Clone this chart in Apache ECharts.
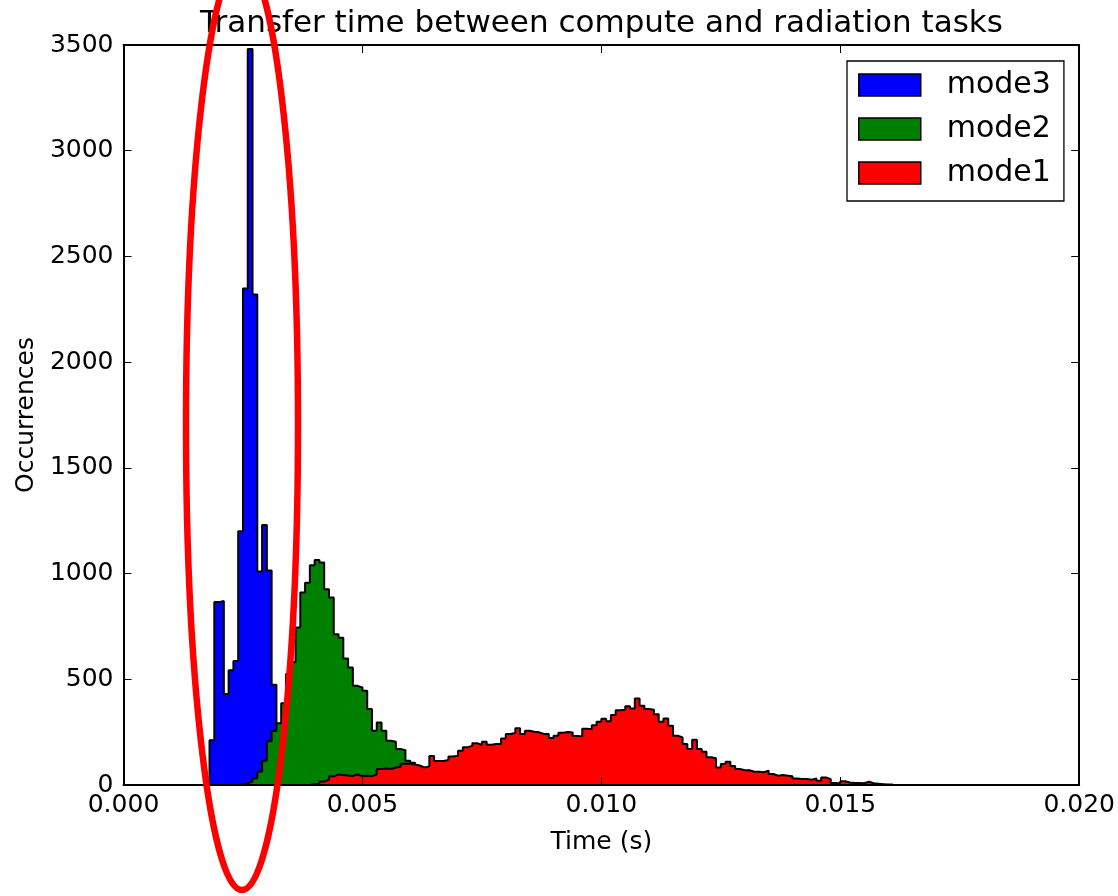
<!DOCTYPE html>
<html><head><meta charset="utf-8">
<script src="https://cdn.jsdelivr.net/npm/echarts@6/dist/echarts.min.js"></script>
<style>html,body{margin:0;padding:0;background:#fff}#c{width:1118px;height:896px}</style>
</head><body><div id="c"></div>
<script>
// ---- data (histogram bins of width 0.0001 s) ----
const binWidth = 0.0001;
const seriesNames = ['mode3', 'mode2', 'mode1'];
const mode3StartBin = 18;
const mode3Counts = [212, 865, 870, 430, 543, 587, 1200, 2348, 3481, 2320, 1010, 1230, 1015, 474, 180, 60, 15];
const mode2StartBin = 24;
const mode2Counts = [3, 8, 16, 31, 63, 115, 207, 255, 292, 387, 525, 580, 745, 910, 957, 1039, 1064, 1052, 926, 887,
  713, 697, 598, 556, 469, 461, 446, 359, 257, 296, 257, 209, 205, 170, 165, 115, 105, 90, 82, 70,
  60, 50, 42, 35, 28, 22, 18, 14, 10, 8, 5, 4, 2];
const mode1StartBin = 39;
const mode1Counts = [3, 6, 16, 25, 41, 50, 47, 45, 43, 50, 41, 44, 41, 50, 76, 78, 76, 83, 86, 100,
  100, 97, 92, 83, 88, 137, 113, 114, 118, 135, 138, 162, 178, 186, 198, 189, 205, 190, 194, 194,
  220, 241, 246, 268, 241, 257, 252, 249, 241, 241, 222, 233, 247, 251, 248, 232, 230, 266, 264, 283,
  299, 313, 302, 331, 353, 356, 373, 362, 409, 375, 359, 356, 335, 299, 315, 280, 233, 225, 194, 170,
  214, 170, 157, 131, 127, 83, 99, 110, 90, 76, 70, 70, 63, 63, 60, 68, 52, 44, 47, 44,
  41, 31, 28, 28, 25, 31, 20, 36, 28, 10, 8, 18, 12, 10, 10, 8, 16, 8, 6, 4, 2, 2];
const xTickLabels = ['0.000', '0.005', '0.010', '0.015', '0.020'];
const yTickLabels = ['0', '500', '1000', '1500', '2000', '2500', '3000', '3500'];

const colors = {mode3: '#0000ff', mode2: '#008000', mode1: '#ff0000'};
const FONT = 'DejaVu Sans';

function histPoints(startBin, counts) {
  const pts = [[startBin * binWidth, 0]];
  counts.forEach((c, i) => pts.push([(startBin + i) * binWidth, c]));
  pts.push([(startBin + counts.length) * binWidth, 0]);
  return pts;
}

const histData = {
  mode3: histPoints(mode3StartBin, mode3Counts),
  mode2: histPoints(mode2StartBin, mode2Counts),
  mode1: histPoints(mode1StartBin, mode1Counts)
};

const xStep = 0.005, yStep = 500;
const frameLine = {show: true, onZero: false, lineStyle: {color: '#000', width: 2}};
const tick = {show: true, inside: true, length: 8, lineStyle: {color: '#000', width: 1}};

const chart = echarts.init(document.getElementById('c'), null, {renderer: 'canvas'});
chart.setOption({
  animation: false,
  backgroundColor: '#fff',
  textStyle: {fontFamily: FONT, color: '#000'},
  title: {
    text: 'Transfer time between compute and radiation tasks',
    left: 601.5, top: 8, padding: 0, textAlign: 'center',
    textStyle: {fontSize: 31, fontWeight: 'normal', color: '#000', fontFamily: FONT}
  },
  grid: {left: 123.5, right: 38.5, top: 45, bottom: 111, containLabel: false},
  legend: {
    orient: 'vertical', left: 847, top: 61,
    data: seriesNames.map(n => ({name: n, icon: 'rect'})),
    itemWidth: 62, itemHeight: 22, itemGap: 14,
    padding: [9, 13, 13, 11],
    borderColor: '#000', borderWidth: 1.3, backgroundColor: '#fff',
    selectedMode: false, z: 20,
    itemStyle: {borderColor: '#000', borderWidth: 1.5},
    textStyle: {fontSize: 30, color: '#000', fontFamily: FONT, padding: [0, 0, 0, 21]}
  },
  xAxis: [
    {type: 'value', position: 'bottom', min: 0, max: 0.02, interval: xStep, z: 10,
     name: 'Time (s)', nameLocation: 'middle', nameGap: 45,
     nameTextStyle: {fontSize: 25, color: '#000', fontFamily: FONT},
     axisLine: frameLine, axisTick: tick, splitLine: {show: false},
     axisLabel: {fontSize: 25, color: '#000', margin: 8, fontFamily: FONT,
       formatter: v => xTickLabels[Math.round(v / xStep)]}},
    {type: 'value', position: 'top', min: 0, max: 0.02, interval: xStep, z: 10,
     axisLine: frameLine, axisTick: tick, splitLine: {show: false}, axisLabel: {show: false}}
  ],
  yAxis: [
    {type: 'value', position: 'left', min: 0, max: 3500, interval: yStep, z: 10,
     name: 'Occurrences', nameLocation: 'middle', nameGap: 83, nameRotate: 90,
     nameTextStyle: {fontSize: 25, color: '#000', fontFamily: FONT},
     axisLine: frameLine, axisTick: tick, splitLine: {show: false},
     axisLabel: {fontSize: 25, color: '#000', margin: 10, fontFamily: FONT,
       formatter: v => yTickLabels[Math.round(v / yStep)]}},
    {type: 'value', position: 'right', min: 0, max: 3500, interval: yStep, z: 10,
     axisLine: frameLine, axisTick: tick, splitLine: {show: false}, axisLabel: {show: false}}
  ],
  series: seriesNames.map((n, i) => ({
    type: 'line', name: n, data: histData[n], step: 'end', symbol: 'none',
    z: 2 + i, silent: true, emphasis: {disabled: true},
    itemStyle: {color: colors[n]},
    lineStyle: {color: '#000', width: 2},
    areaStyle: {color: colors[n], opacity: 1}
  })),
  graphic: [{
    type: 'ellipse', silent: true, z: 100,
    shape: {cx: 242, cy: 425, rx: 56, ry: 465},
    style: {fill: 'none', stroke: '#ff0000', lineWidth: 6.5}
  }]
});
</script>
</body></html>
